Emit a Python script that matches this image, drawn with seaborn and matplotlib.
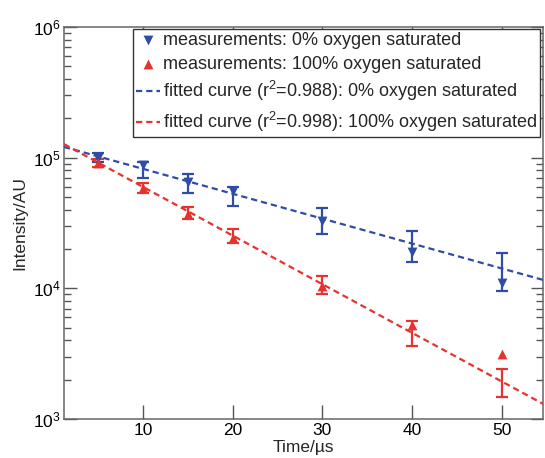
import numpy as np
import pandas as pd
import matplotlib
matplotlib.use("Agg")
import matplotlib.pyplot as plt
from matplotlib.ticker import LogLocator, NullFormatter
import seaborn as sns

# measurement times (microseconds)
time_us = [5, 10, 15, 20, 30, 40, 50]

# 0% oxygen saturated: marker values and error bar ends
i_0 = [99500, 87900, 65200, 55600, 32800, 19000, 11000]
i_0_lo = [92700, 69900, 53700, 42700, 26100, 15900, 9550]
i_0_hi = [108600, 92700, 75000, 59700, 41200, 27500, 18700]

# 100% oxygen saturated
i_100 = [91000, 58600, 37100, 24300, 10400, 5250, 3150]
i_100_lo = [85000, 53700, 34000, 22300, 9060, 3630, 1480]
i_100_hi = [97000, 64000, 42000, 28500, 12400, 5630, 2420]

# fitted curves (end points, straight on the log axis)
fit_t = [1.2, 54.6]
fit_0 = [120800, 11600]
fit_100 = [127000, 1306]

labels = [
    "measurements: 0% oxygen saturated",
    "measurements: 100% oxygen saturated",
    "fitted curve (r$^{2}$=0.988): 0% oxygen saturated",
    "fitted curve (r$^{2}$=0.998): 100% oxygen saturated",
]

blue = "#2f4ca6"
red = "#e6332f"

sns.set_style("ticks")
plt.rcParams["font.family"] = ["Liberation Sans", "DejaVu Sans"]
plt.rcParams["mathtext.fontset"] = "custom"
plt.rcParams["mathtext.rm"] = "Liberation Sans"
plt.rcParams["mathtext.it"] = "Liberation Sans:italic"
plt.rcParams["mathtext.bf"] = "Liberation Sans:bold"

meas = pd.DataFrame({"t": time_us, "i0": i_0, "i100": i_100})
fits = pd.DataFrame({"t": fit_t, "f0": fit_0, "f100": fit_100})

fig = plt.figure(figsize=(5.45, 4.58), dpi=100)
ax = fig.add_axes([0.1174, 0.0852, 0.8789, 0.8559])
ax.set_yscale("log")

dash = (0, (2.8, 1.8))

# error bars (drawn from upper end down to lower end)
for lo, hi, c in [(i_0_lo, i_0_hi, blue), (i_100_lo, i_100_hi, red)]:
    lo = np.array(lo)
    hi = np.array(hi)
    ax.errorbar(time_us, hi, yerr=[hi - lo, np.zeros_like(hi)], fmt="none",
                ecolor=c, elinewidth=1.6, capsize=4.5, capthick=1.6, zorder=2)

sns.lineplot(data=fits, x="t", y="f0", ax=ax, color=blue, lw=1.6,
             linestyle=dash, label=labels[2], zorder=3)
sns.lineplot(data=fits, x="t", y="f100", ax=ax, color=red, lw=1.6,
             linestyle=dash, label=labels[3], zorder=3)
sns.scatterplot(data=meas, x="t", y="i0", ax=ax, marker="v", color=blue,
                s=50, linewidth=0, label=labels[0], zorder=4)
sns.scatterplot(data=meas, x="t", y="i100", ax=ax, marker="^", color=red,
                s=50, linewidth=0, label=labels[1], zorder=4)

ax.set_xlim(1.2, 54.6)
ax.set_ylim(1e3, 1e6)
ax.set_xticks([10, 20, 30, 40, 50])
ax.yaxis.set_major_locator(LogLocator(base=10, numticks=10))
ax.yaxis.set_minor_locator(LogLocator(base=10, subs=np.arange(2, 10), numticks=20))
ax.yaxis.set_minor_formatter(NullFormatter())

ax.tick_params(axis="both", which="both", direction="in", top=True, right=True,
               colors="#555555", labelcolor="black", labelsize=12.5)
ax.tick_params(axis="x", which="major", length=10, width=1, pad=3)
ax.tick_params(axis="y", which="major", length=9, width=1, pad=2)
ax.tick_params(axis="y", which="minor", length=5, width=1)
for sp in ax.spines.values():
    sp.set_color("#666666")
    sp.set_linewidth(1.1)

ax.set_xlabel("Time/\u00b5s", fontsize=12.5, labelpad=1)
ax.set_ylabel("Intensity/AU", fontsize=12.5, labelpad=4)

handles, hlabels = ax.get_legend_handles_labels()
order = [hlabels.index(l) for l in labels]
leg = ax.legend([handles[k] for k in order], [hlabels[k] for k in order],
                loc="upper right", bbox_to_anchor=(0.994, 0.995), borderaxespad=0,
                fontsize=13, frameon=True, fancybox=False, framealpha=1,
                edgecolor="#333333", handlelength=1.35, handletextpad=0.12,
                labelspacing=0.36, borderpad=0.18, scatterpoints=1)
leg.get_frame().set_linewidth(1.0)

fig.savefig("out.png", dpi=100)
